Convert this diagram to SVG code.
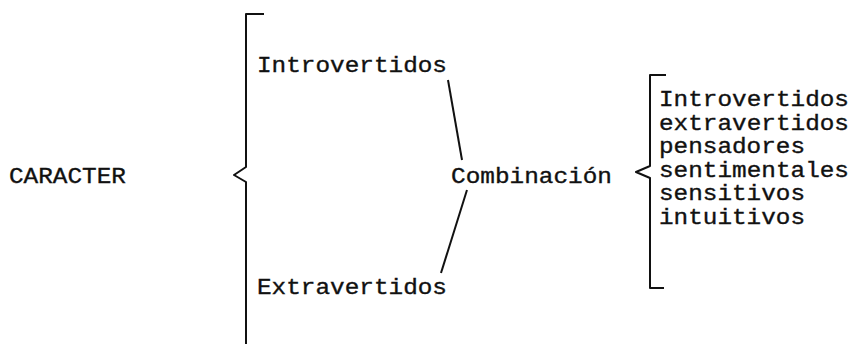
<svg xmlns="http://www.w3.org/2000/svg" width="853" height="344" viewBox="0 0 853 344">
<style>
text { font-family: "Liberation Mono", "DejaVu Sans Mono", monospace; font-size: 22px; fill: #111; stroke: #111; stroke-width: 0.35; }
.ln { fill: none; stroke: #111; stroke-width: 2; stroke-linejoin: round; }
</style>
<rect width="853" height="344" fill="#fff"/>
<g id="caracter"><text x="9" y="183" textLength="117" lengthAdjust="spacingAndGlyphs">CARACTER</text></g>
<g id="introvertidos"><text x="257" y="72" textLength="190" lengthAdjust="spacingAndGlyphs">Introvertidos</text></g>
<g id="extravertidos"><text x="257" y="294" textLength="190" lengthAdjust="spacingAndGlyphs">Extravertidos</text></g>
<g id="combinacion"><text x="451" y="183" textLength="161" lengthAdjust="spacingAndGlyphs">Combinación</text></g>
<g id="lista">
<text x="659" y="106" textLength="190" lengthAdjust="spacingAndGlyphs">Introvertidos</text>
<text x="659" y="129.5" textLength="190" lengthAdjust="spacingAndGlyphs">extravertidos</text>
<text x="659" y="153" textLength="146" lengthAdjust="spacingAndGlyphs">pensadores</text>
<text x="659" y="176.5" textLength="190" lengthAdjust="spacingAndGlyphs">sentimentales</text>
<text x="659" y="200" textLength="146" lengthAdjust="spacingAndGlyphs">sensitivos</text>
<text x="659" y="223.5" textLength="146" lengthAdjust="spacingAndGlyphs">intuitivos</text>
</g>
<g id="connectors">
<path class="ln" d="M264,14 H246 V167 L234,175 L246,182 V344"/>
<path class="ln" d="M448,80 L462,160"/>
<path class="ln" d="M467,190 L441,273"/>
<path class="ln" d="M666,75 H650 V166 L636,172 L650,178 V288 H664"/>
</g>
</svg>
